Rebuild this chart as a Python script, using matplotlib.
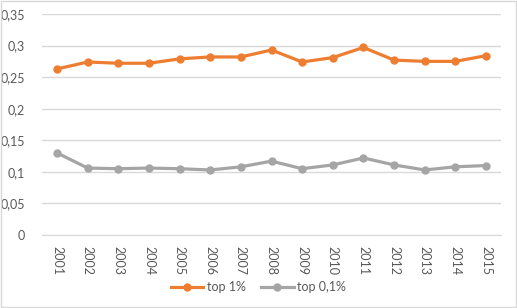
import matplotlib.pyplot as plt
from matplotlib.ticker import FuncFormatter

plt.rcParams["font.family"] = ["Lato", "DejaVu Sans"]

years = [str(y) for y in range(2001, 2016)]
top_1 = [0.263, 0.274, 0.272, 0.272, 0.279, 0.282, 0.282, 0.293,
         0.274, 0.281, 0.297, 0.277, 0.275, 0.275, 0.284]
top_01 = [0.130, 0.106, 0.105, 0.106, 0.105, 0.103, 0.108, 0.117,
          0.105, 0.111, 0.122, 0.111, 0.103, 0.108, 0.110]
y_ticks = [0, 0.05, 0.1, 0.15, 0.2, 0.25, 0.3, 0.35]

fig = plt.figure(figsize=(5.17, 3.08), dpi=100)
ax = fig.add_axes([0.0807, 0.237, 0.889, 0.7175])

x = range(len(years))
ax.plot(x, top_1, color="#ED7D31", linewidth=2.3, marker="o", markersize=5, label="top 1%")
ax.plot(x, top_01, color="#A5A5A5", linewidth=2.3, marker="o", markersize=5, label="top 0,1%")

ax.set_xlim(-0.5, len(years) - 0.5)
ax.set_ylim(0, 0.35)
ax.set_yticks(y_ticks)
ax.yaxis.set_major_formatter(FuncFormatter(lambda v, _: f"{v:g}".replace(".", ",")))
ax.set_xticks(list(x))
ax.set_xticklabels(years, rotation=-90)
ax.grid(axis="y", color="#D9D9D9", linewidth=1)
ax.set_axisbelow(True)
for side in ["top", "right", "left"]:
    ax.spines[side].set_visible(False)
ax.spines["bottom"].set_color("#D9D9D9")
ax.tick_params(axis="both", length=0, colors="#595959", labelsize=9)
ax.tick_params(axis="y", pad=12)
ax.tick_params(axis="x", pad=8)

fig.legend(loc="center", bbox_to_anchor=(0.5, 0.068), ncol=2, frameon=False,
           fontsize=9, labelcolor="#595959", handlelength=2.6, columnspacing=1.2,
           handletextpad=0.3)

fig.patches.append(plt.Rectangle((0.001, 0.002), 0.997, 0.995, transform=fig.transFigure,
                                 fill=False, edgecolor="#D9D9D9", linewidth=1))
fig.savefig("out.png", dpi=100)
